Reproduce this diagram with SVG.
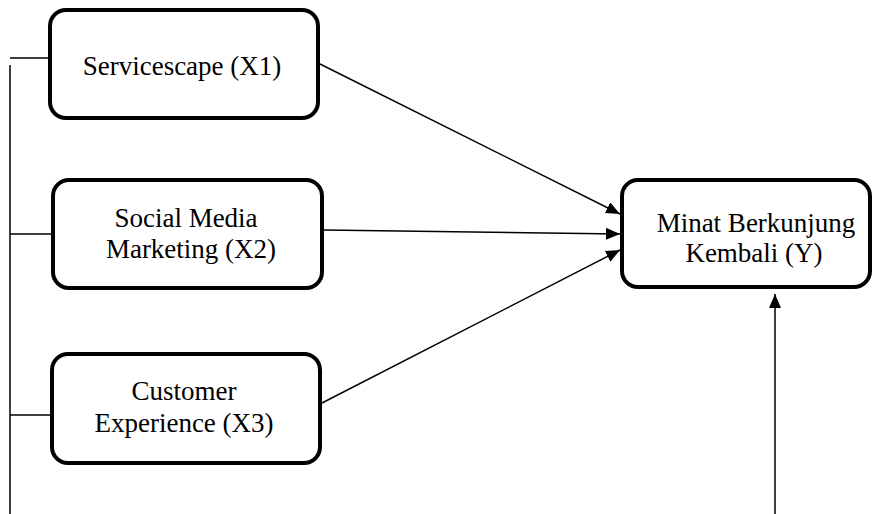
<svg xmlns="http://www.w3.org/2000/svg" width="877" height="514" viewBox="0 0 877 514">
<defs>
<marker id="ah" markerWidth="14" markerHeight="12" refX="14" refY="6" orient="auto" markerUnits="userSpaceOnUse">
<path d="M0,0 L14,6 L0,12 Z" fill="#000"/>
</marker>
</defs>
<style>
.box{fill:#fff;stroke:#000;stroke-width:4}
.ln{fill:none;stroke:#000;stroke-width:1.5}
.t{font-family:"Liberation Serif",serif;font-size:27px;fill:#000;text-anchor:middle}
</style>
<rect width="877" height="514" fill="#fff"/>
<g id="connectors">
<line class="ln" x1="10" y1="65" x2="10" y2="514"/>
<line class="ln" x1="10" y1="58" x2="50" y2="58"/>
<line class="ln" x1="10" y1="234" x2="53" y2="234"/>
<line class="ln" x1="10" y1="415" x2="52" y2="415"/>
<line class="ln" x1="320" y1="64" x2="620" y2="214" marker-end="url(#ah)"/>
<line class="ln" x1="324" y1="230" x2="620" y2="234" marker-end="url(#ah)"/>
<line class="ln" x1="322" y1="403" x2="620" y2="250" marker-end="url(#ah)"/>
<line class="ln" x1="775" y1="514" x2="775" y2="294" marker-end="url(#ah)"/>
</g>
<g id="x1">
<rect class="box" x="50" y="10" width="268" height="108" rx="16"/>
<text class="t" x="182" y="75">Servicescape (X1)</text>
</g>
<g id="x2">
<rect class="box" x="53" y="180" width="269" height="108" rx="16"/>
<text class="t" x="186" y="227">Social Media</text>
<text class="t" x="191" y="258">Marketing (X2)</text>
</g>
<g id="x3">
<rect class="box" x="52" y="354" width="268" height="109" rx="16"/>
<text class="t" x="184" y="400">Customer</text>
<text class="t" x="184" y="432">Experience (X3)</text>
</g>
<g id="y">
<rect class="box" x="622" y="180" width="248" height="107" rx="16"/>
<text class="t" x="756" y="232">Minat Berkunjung</text>
<text class="t" x="754" y="262">Kembali (Y)</text>
</g>
</svg>
